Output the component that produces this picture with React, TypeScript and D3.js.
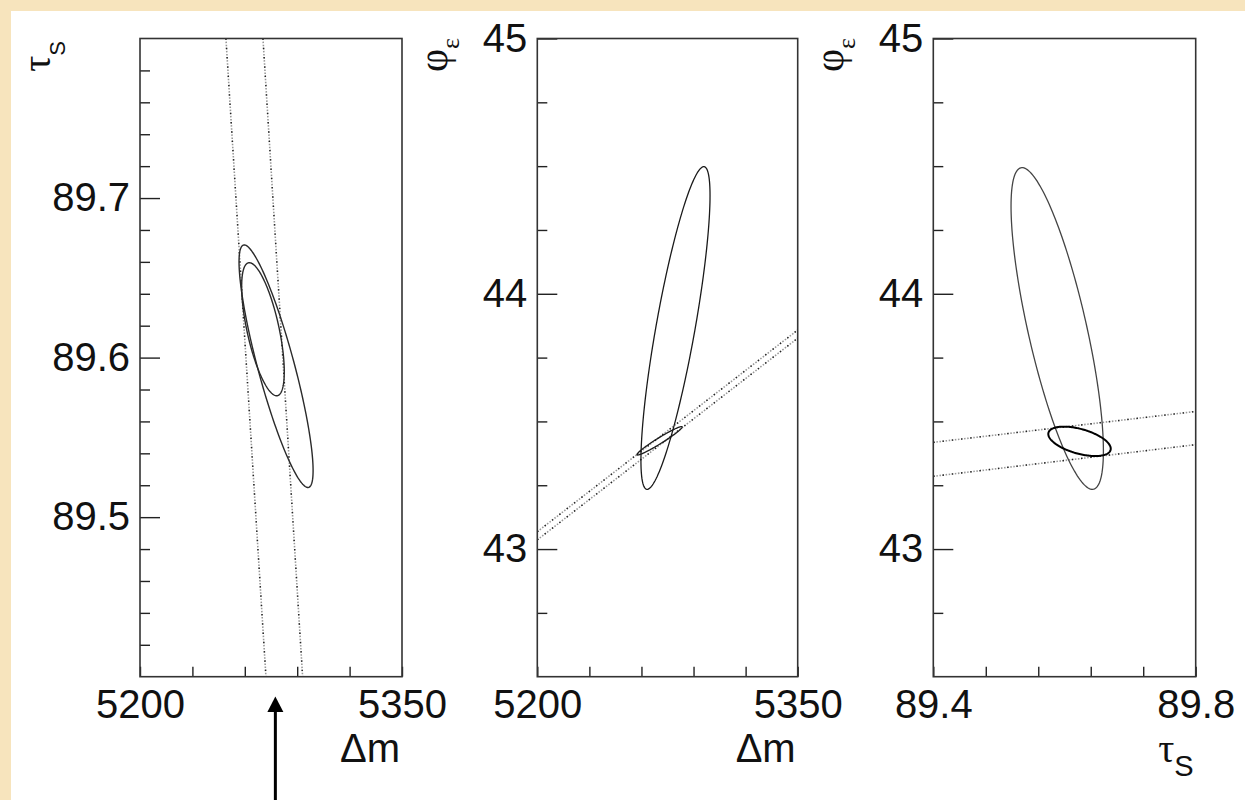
import React, { useEffect, useRef } from "react";
import * as d3 from "d3";

const W = 1245;
const H = 800;

// axis ranges
const dmDomain = [5200, 5350];
const tauDomain = [89.4, 89.8];
const phiDomain = [42.5, 45];

// x ticks: five equal divisions, only the ends labelled
const dmTicks = [5200, 5230, 5260, 5290, 5320, 5350];
const dmLabels = ["5200", "", "", "", "", "5350"];
const tauXTicks = [89.4, 89.48, 89.56, 89.64, 89.72, 89.8];
const tauXLabels = ["89.4", "", "", "", "", "89.8"];

// y ticks
const tauYMajor = [89.5, 89.6, 89.7];
const tauYLabels = ["89.5", "89.6", "89.7"];
const tauYMinor = [89.42, 89.44, 89.46, 89.48, 89.52, 89.54, 89.56, 89.58, 89.62, 89.64, 89.66, 89.68, 89.72, 89.74, 89.76, 89.78];
const phiYMajor = [43, 44, 45];
const phiYLabels = ["43", "44", "45"];
const phiYMinor = [42.75, 43.25, 43.5, 43.75, 44.25, 44.5, 44.75];

type Ell = { cx: number; cy: number; sx: number; sy: number; rho: number };
type Seg = { x0: number; y0: number; x1: number; y1: number };

// contours: centre, half extent in x and y, correlation
const dmTauFits: Ell[] = [
  { cx: 5277.9, cy: 89.5946, sx: 21.2, sy: 0.076, rho: -0.86 },
  { cx: 5270.4, cy: 89.6178, sx: 12.2, sy: 0.0417, rho: -0.64 },
];
const dmTauBand: Seg[] = [
  { x0: 5249.2, y0: 89.8, x1: 5272.1, y1: 89.4 },
  { x0: 5270.4, y0: 89.8, x1: 5293.1, y1: 89.4 },
];
const dmPhiFits: Ell[] = [
  { cx: 5279.6, cy: 43.866, sx: 19.9, sy: 0.632, rho: 0.82 },
  { cx: 5270.4, cy: 43.424, sx: 13.0, sy: 0.0556, rho: 0.97 },
];
const dmPhiBand: Seg[] = [
  { x0: 5200, y0: 43.068, x1: 5350, y1: 43.858 },
  { x0: 5200, y0: 43.036, x1: 5350, y1: 43.826 },
];
const tauPhiFits: Ell[] = [
  { cx: 89.5889, cy: 43.864, sx: 0.0704, sy: 0.63, rho: -0.76 },
  { cx: 89.6229, cy: 43.422, sx: 0.0476, sy: 0.0576, rho: -0.5 },
];
const tauPhiBand: Seg[] = [
  { x0: 89.4, y0: 43.418, x1: 89.8, y1: 43.539 },
  { x0: 89.4, y0: 43.285, x1: 89.8, y1: 43.409 },
];

// where the arrow under the first panel points
const arrowDm = 5277.5;

const SANS = "'Liberation Sans', Arial, Helvetica, sans-serif";
const SERIF = "'Liberation Serif', 'DejaVu Serif', serif";

const top = 38.5;
const bottom = 676.7;

const panels = [
  {
    left: 140, right: 402, xDomain: dmDomain, yDomain: tauDomain,
    xTicks: dmTicks, xLabels: dmLabels, yMajor: tauYMajor, yLabels: tauYLabels, yMinor: tauYMinor,
    fits: dmTauFits, band: dmTauBand,
    fitStyle: [{ c: "#2a2a2a", w: 1.4 }, { c: "#2a2a2a", w: 1.4 }],
    xTitle: "dm", yTitle: "tau", yTitleX: 50, yTitleY: 41,
  },
  {
    left: 537.3, right: 797.7, xDomain: dmDomain, yDomain: phiDomain,
    xTicks: dmTicks, xLabels: dmLabels, yMajor: phiYMajor, yLabels: phiYLabels, yMinor: phiYMinor,
    fits: dmPhiFits, band: dmPhiBand,
    fitStyle: [{ c: "#1a1a1a", w: 1.3 }, { c: "#1a1a1a", w: 1.3 }],
    xTitle: "dm", yTitle: "phi", yTitleX: 447, yTitleY: 38,
  },
  {
    left: 933.3, right: 1195.7, xDomain: tauDomain, yDomain: phiDomain,
    xTicks: tauXTicks, xLabels: tauXLabels, yMajor: phiYMajor, yLabels: phiYLabels, yMinor: phiYMinor,
    fits: tauPhiFits, band: tauPhiBand,
    fitStyle: [{ c: "#444", w: 1.3 }, { c: "#000", w: 2 }],
    xTitle: "tau", yTitle: "phi", yTitleX: 843, yTitleY: 38,
  },
];

const angles = d3.range(0, 360, 2).map((d) => (d * Math.PI) / 180);
function ellipsePoints(e: Ell): [number, number][] {
  const q = Math.sqrt(1 - e.rho * e.rho);
  return angles.map((t) => [
    e.cx + e.sx * Math.cos(t),
    e.cy + e.sy * (e.rho * Math.cos(t) + q * Math.sin(t)),
  ]);
}

export default function App() {
  const ref = useRef<SVGSVGElement>(null);

  useEffect(() => {
    const svg = d3.select(ref.current);
    svg.selectAll("*").remove();

    svg.append("rect").attr("width", W).attr("height", H).attr("fill", "#f7e4bd");
    svg.append("rect").attr("x", 11).attr("y", 11).attr("width", W - 11).attr("height", H - 11).attr("fill", "#fff");

    panels.forEach((p, pi) => {
      const x = d3.scaleLinear().domain(p.xDomain).range([p.left, p.right]);
      const y = d3.scaleLinear().domain(p.yDomain).range([bottom, top]);
      const g = svg.append("g");

      const clipId = "clip" + pi;
      g.append("clipPath").attr("id", clipId)
        .append("rect").attr("x", p.left).attr("y", top)
        .attr("width", p.right - p.left).attr("height", bottom - top);

      const plot = g.append("g").attr("clip-path", `url(#${clipId})`);

      // dotted band lines: grey dots with sparse dark dots on top
      p.band.forEach((s) => {
        const ln = plot.append("g");
        ln.append("line")
          .attr("x1", x(s.x0)).attr("y1", y(s.y0)).attr("x2", x(s.x1)).attr("y2", y(s.y1))
          .attr("stroke", "#999").attr("stroke-width", 1.6).attr("stroke-dasharray", "1.5 1.6");
        ln.append("line")
          .attr("x1", x(s.x0)).attr("y1", y(s.y0)).attr("x2", x(s.x1)).attr("y2", y(s.y1))
          .attr("stroke", "#222").attr("stroke-width", 1.4).attr("stroke-dasharray", "1.4 7.9");
      });

      // contours
      const line = d3.line<[number, number]>()
        .x((d) => x(d[0])).y((d) => y(d[1]))
        .curve(d3.curveLinearClosed);
      p.fits.forEach((e, i) => {
        plot.append("path")
          .attr("d", line(ellipsePoints(e)))
          .attr("fill", "none")
          .attr("stroke", p.fitStyle[i].c)
          .attr("stroke-width", p.fitStyle[i].w);
      });

      // y axis, minor then major ticks pointing inward
      const yMin = g.append("g").attr("transform", `translate(${p.left},0)`)
        .call(d3.axisLeft(y).tickValues(p.yMinor).tickSizeInner(-10).tickSizeOuter(0).tickFormat(() => ""));
      yMin.select(".domain").remove();
      yMin.selectAll("line").attr("stroke", "#222").attr("stroke-width", 1.4);

      const yMaj = g.append("g").attr("transform", `translate(${p.left},0)`)
        .call(d3.axisLeft(y).tickValues(p.yMajor).tickSizeInner(-20).tickSizeOuter(0).tickPadding(10)
          .tickFormat((d, i) => p.yLabels[i]));
      yMaj.select(".domain").remove();
      yMaj.selectAll("line").attr("stroke", "#222").attr("stroke-width", 1.4);
      yMaj.attr("font-size", 40).attr("font-family", SANS);
      yMaj.selectAll("text").attr("fill", "#111");

      const xAx = g.append("g").attr("transform", `translate(0,${bottom})`)
        .call(d3.axisBottom(x).tickValues(p.xTicks).tickSizeInner(-10).tickSizeOuter(0).tickPadding(13)
          .tickFormat((d, i) => p.xLabels[i]));
      xAx.select(".domain").remove();
      xAx.selectAll("line").attr("stroke", "#222").attr("stroke-width", 1.4);
      xAx.attr("font-size", 40).attr("font-family", SANS);
      xAx.selectAll("text").attr("fill", "#111");

      // frame
      g.append("rect")
        .attr("x", p.left).attr("y", top)
        .attr("width", p.right - p.left).attr("height", bottom - top)
        .attr("fill", "none").attr("stroke", "#333").attr("stroke-width", 1.6);

      // x title
      const xt = g.append("text")
        .attr("x", p.right - 2).attr("y", 762)
        .attr("text-anchor", "end").attr("fill", "#111").attr("font-size", 40);
      if (p.xTitle === "dm") {
        xt.attr("font-family", SANS).text("Δm");
      } else {
        xt.append("tspan").attr("font-family", SERIF).text("τ");
        xt.append("tspan").attr("font-family", SANS).attr("font-size", 29).attr("dy", 14).text("S");
      }

      // y title, reading upward
      const ytg = g.append("g").attr("transform", `translate(${p.yTitleX},${p.yTitleY})`);
      const yt = ytg.append("text")
        .attr("transform", "rotate(-90)")
        .attr("x", 0).attr("y", 0)
        .style("text-anchor", "end")
        .attr("fill", "#111").attr("font-size", 40);
      if (p.yTitle === "tau") {
        yt.append("tspan").attr("font-family", SERIF).text("τ");
        yt.append("tspan").attr("font-family", SANS).attr("font-size", 22).attr("dy", 15).text("S");
      } else {
        yt.append("tspan").attr("font-family", SERIF).text("φ");
        yt.append("tspan").attr("font-family", SERIF).attr("font-size", 26).attr("dy", 12).text("ε");
      }

      // arrow under the first panel
      if (pi === 0) {
        const ax = x(arrowDm);
        g.append("line").attr("x1", ax).attr("x2", ax).attr("y1", H).attr("y2", 708)
          .attr("stroke", "#000").attr("stroke-width", 3);
        g.append("path")
          .attr("d", `M${ax},696.5 L${ax - 8},712 L${ax + 8},712 Z`)
          .attr("fill", "#000");
      }
    });
  }, []);

  return (
    <svg
      ref={ref}
      width={W}
      height={H}
      style={{ position: "absolute", left: 0, top: 0, display: "block" }}
    />
  );
}
